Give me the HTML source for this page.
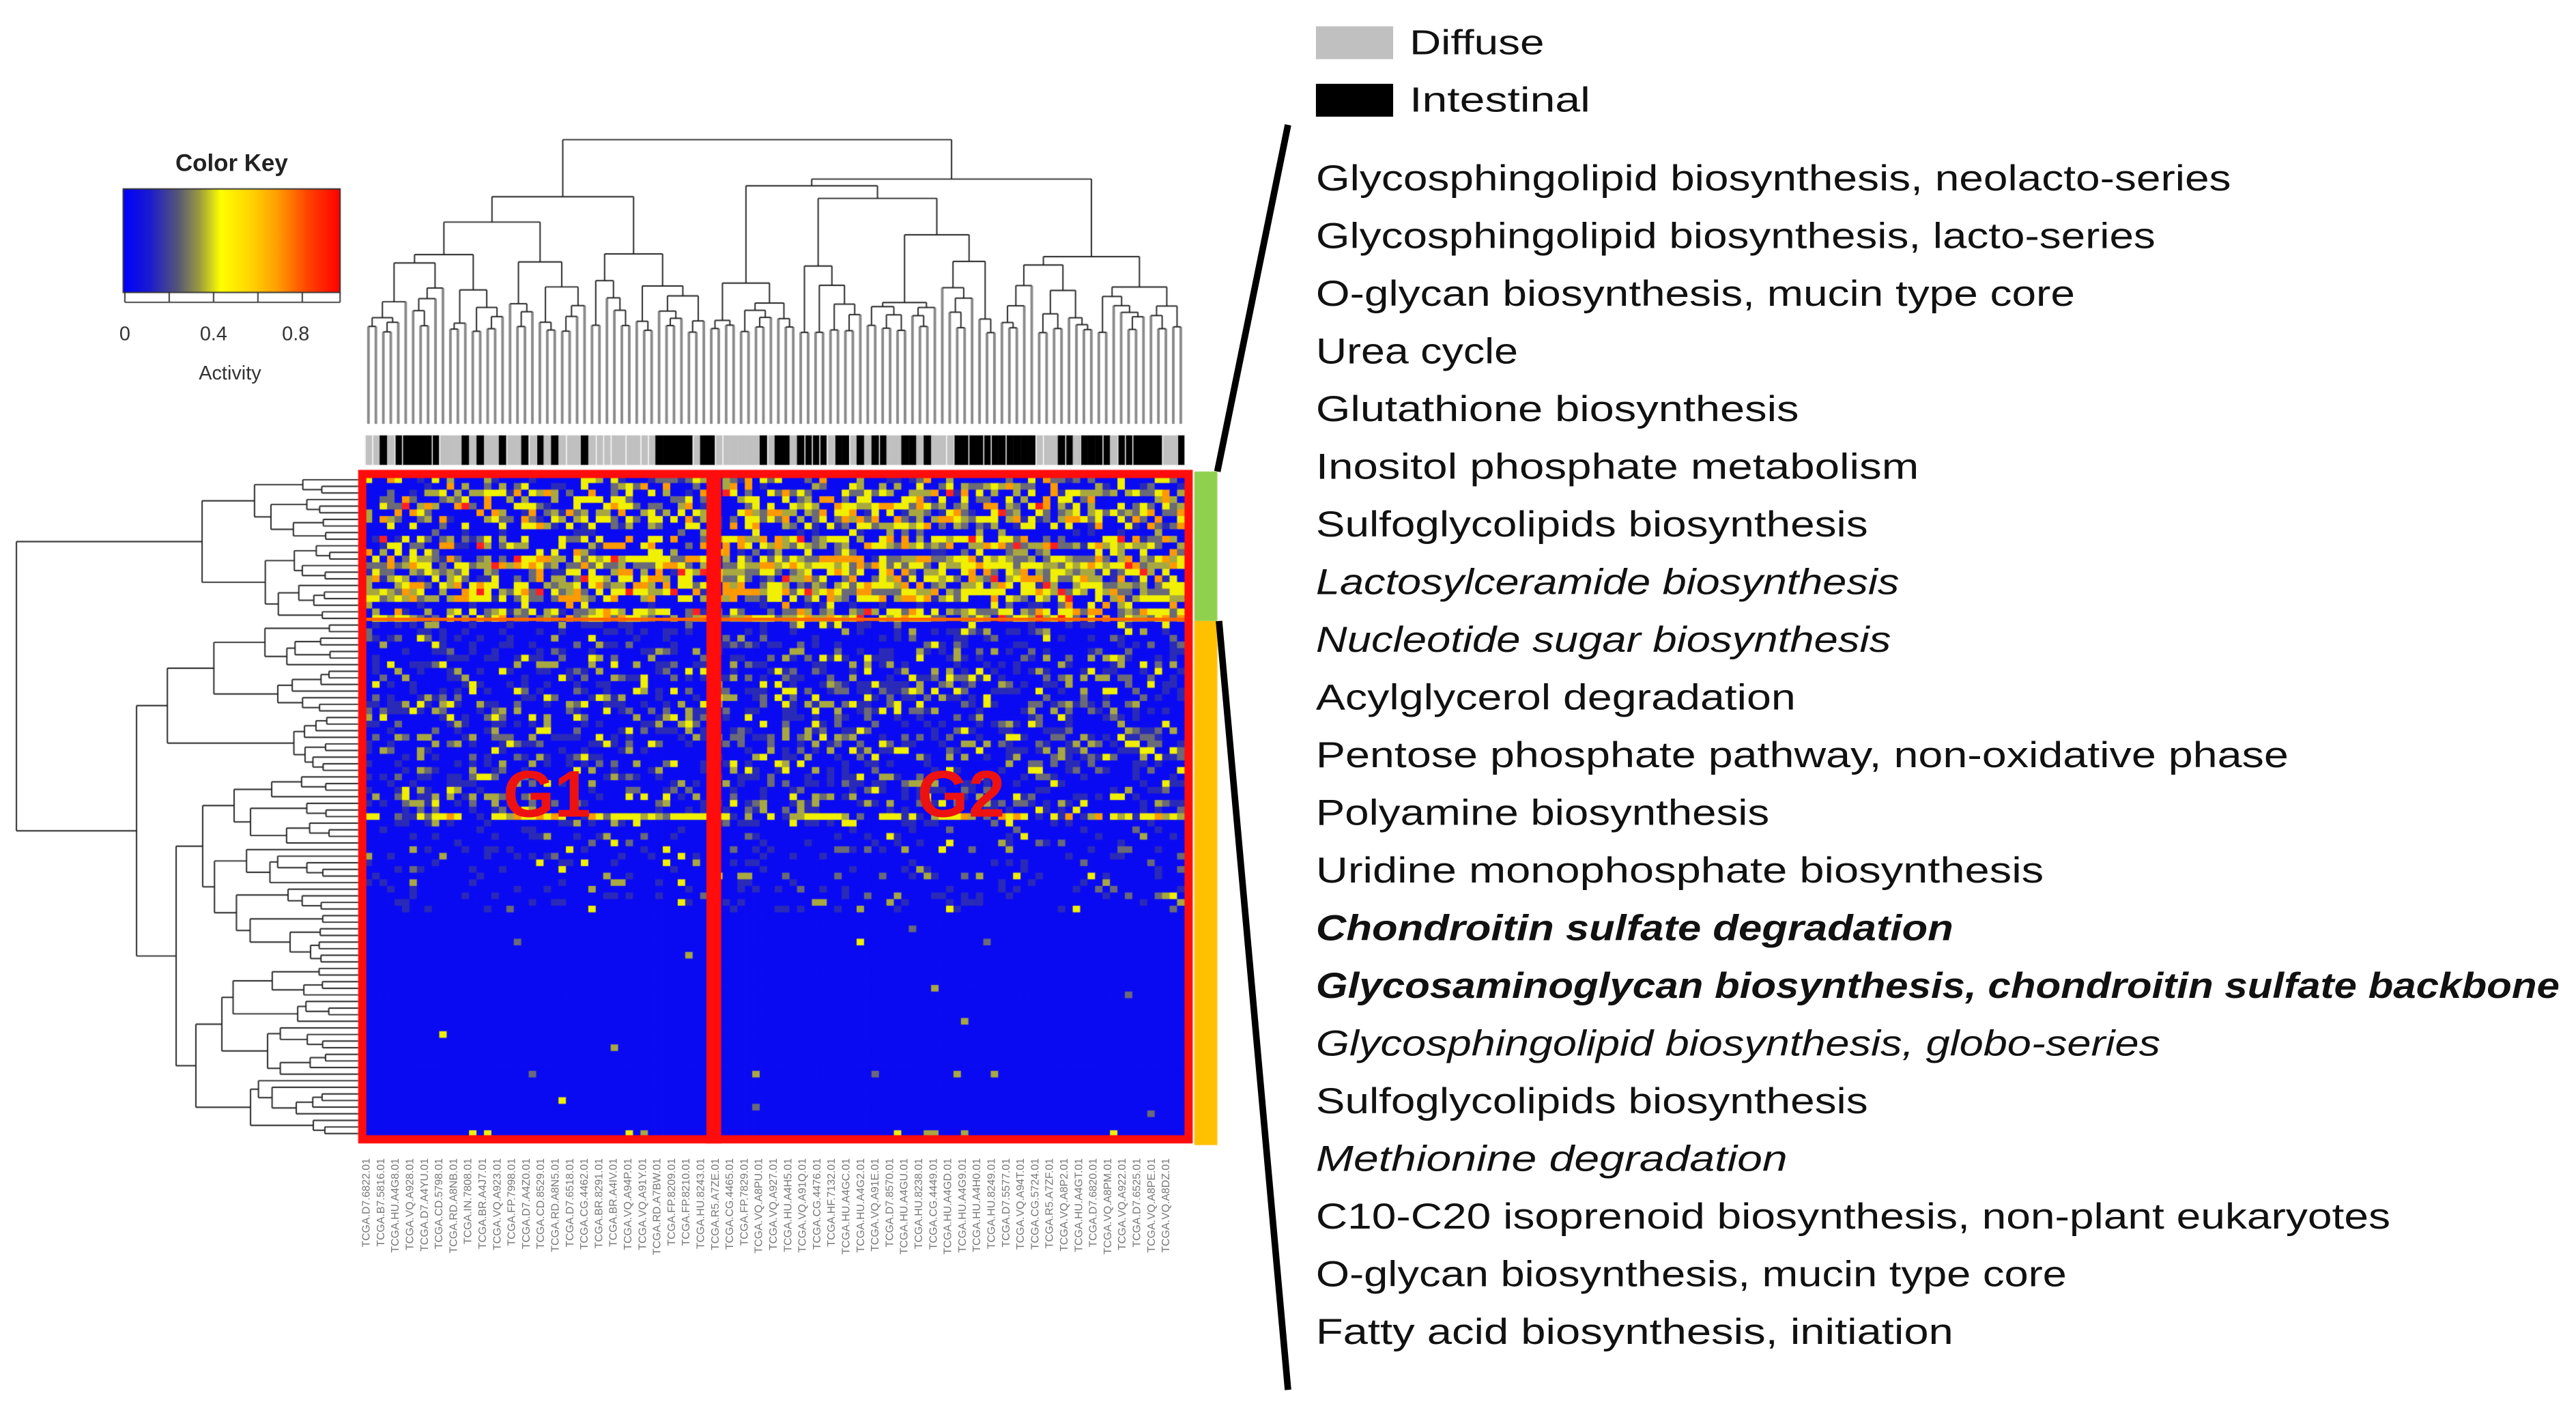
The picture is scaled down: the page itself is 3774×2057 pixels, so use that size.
<!DOCTYPE html>
<html><head><meta charset="utf-8"><style>
html,body{margin:0;padding:0;background:#fff;width:3774px;height:2057px;overflow:hidden}
canvas,svg{position:absolute;left:0;top:0}
</style></head><body>
<canvas id="c" width="3774" height="2057"></canvas>
<svg id="s" width="3774" height="2057" viewBox="0 0 1568 854.6" xmlns="http://www.w3.org/2000/svg">
<g font-family="Liberation Sans, sans-serif" fill="#222">
<text x="141" y="104" font-size="14.5" font-weight="bold" text-anchor="middle">Color Key</text>
<text x="76" y="207" font-size="12" text-anchor="middle" fill="#333">0</text>
<text x="130" y="207" font-size="12" text-anchor="middle" fill="#333">0.4</text>
<text x="180" y="207" font-size="12" text-anchor="middle" fill="#333">0.8</text>
<text x="140" y="231" font-size="12" text-anchor="middle" fill="#333">Activity</text>
</g>
<g font-family="Liberation Sans, sans-serif" font-weight="bold" font-size="40" fill="#ee1111" text-anchor="middle">
<text x="333" y="497">G1</text><text x="585" y="497">G2</text>
</g>
<rect x="801" y="16" width="47" height="20" fill="#c0c0c0"/>
<rect x="801" y="51" width="47" height="20" fill="#000"/>
<g font-family="Liberation Sans, sans-serif" font-size="21" fill="#111">
<text x="858" y="33" textLength="82" lengthAdjust="spacingAndGlyphs">Diffuse</text>
<text x="858" y="68" textLength="110" lengthAdjust="spacingAndGlyphs">Intestinal</text>
</g>
<path d="M784,76 L741,287" stroke="#000" stroke-width="4" fill="none"/>
<path d="M742,378 L784,846" stroke="#000" stroke-width="4" fill="none"/>
<g id="labels" font-family="Liberation Sans, sans-serif" font-size="22" fill="#111"></g>
<g id="cols" font-family="Liberation Sans, sans-serif" font-size="6.6" fill="#777"></g>
</svg>
<script>
var L=[["Glycosphingolipid biosynthesis, neolacto-series",1358,""],["Glycosphingolipid biosynthesis, lacto-series",1312,""],["O-glycan biosynthesis, mucin type core",1263,""],["Urea cycle",924,""],["Glutathione biosynthesis",1095,""],["Inositol phosphate metabolism",1168,""],["Sulfoglycolipids biosynthesis",1137,""],["Lactosylceramide biosynthesis",1156,"i"],["Nucleotide sugar biosynthesis",1151,"i"],["Acylglycerol degradation",1093,""],["Pentose phosphate pathway, non-oxidative phase",1393,""],["Polyamine biosynthesis",1077,""],["Uridine monophosphate biosynthesis",1244,""],["Chondroitin sulfate degradation",1189,"bi"],["Glycosaminoglycan biosynthesis, chondroitin sulfate backbone",1558,"bi"],["Glycosphingolipid biosynthesis, globo-series",1315,"i"],["Sulfoglycolipids biosynthesis",1137,""],["Methionine degradation",1088,"i"],["C10-C20 isoprenoid biosynthesis, non-plant eukaryotes",1455,""],["O-glycan biosynthesis, mucin type core",1258,""],["Fatty acid biosynthesis, initiation",1189,""]];
var NS="http://www.w3.org/2000/svg",lg=document.getElementById("labels");
L.forEach(function(l,i){var t=document.createElementNS(NS,"text");t.setAttribute("x",801);t.setAttribute("y",116+i*35.1);
t.setAttribute("textLength",l[1]-801);t.setAttribute("lengthAdjust","spacingAndGlyphs");
if(l[2].indexOf("i")>=0)t.setAttribute("font-style","italic");if(l[2].indexOf("b")>=0)t.setAttribute("font-weight","bold");
t.textContent=l[0];lg.appendChild(t);});
var seed=7;function R(){seed=(seed*16807)%2147483647;return seed/2147483647;}
var cg=document.getElementById("cols"),ids=["D7.6822","B7.5816","HU.A4G8","VQ.A928","D7.A4YU","CD.5798","RD.A8NB","IN.7808","BR.A4J7","VQ.A923","FP.7998","D7.A4Z0","CD.8529","RD.A8N5","D7.6518","CG.4462","BR.8291","BR.A4IV","VQ.A94P","VQ.A91Y","RD.A7BW","FP.8209","FP.8210","HU.8243","R5.A7ZE","CG.4465","FP.7829","VQ.A8PU","VQ.A927","HU.A4H5","VQ.A91Q","CG.4476","HF.7132","HU.A4GC","HU.A4G2","VQ.A91E","D7.8570","HU.A4GU","HU.8238","CG.4449","HU.A4GD","HU.A4G9","HU.A4H0","HU.8249","D7.5577","VQ.A94T","CG.5724","R5.A7ZF","VQ.A8P2","HU.A4GT","D7.6820","VQ.A8PM","VQ.A922","D7.6525","VQ.A8PE","VQ.A8DZ"];
ids.forEach(function(d,i){var x=222+i*8.85+3;var t=document.createElementNS(NS,"text");t.setAttribute("transform","translate("+x+",705) rotate(-90)");t.setAttribute("text-anchor","end");t.textContent="TCGA."+d+".01";cg.appendChild(t);});
var c=document.getElementById("c").getContext("2d");c.scale(3774/1568,2057/854.6);
var gr=c.createLinearGradient(75,0,207,0);
[[0,"#0000ff"],[0.12,"#1a1ad0"],[0.25,"#55557a"],[0.35,"#9a9a40"],[0.45,"#ffff00"],[0.6,"#ffd000"],[0.72,"#ff9900"],[0.85,"#ff4400"],[1,"#ff0000"]].forEach(function(s){gr.addColorStop(s[0],s[1]);});
c.fillStyle=gr;c.fillRect(75,115,132,63);c.strokeStyle="#333";c.lineWidth=0.8;c.strokeRect(75,115,132,63);
c.beginPath();[76,103,130,157,184,207].forEach(function(x){c.moveTo(x,178);c.lineTo(x,184);});c.moveTo(76,184);c.lineTo(207,184);c.stroke();
var NC=110,NR=100,x0=222,x1=721,y0=290,y1=692,cw=(x1-x0)/NC,rh=(y1-y0)/NR;
function col(v){if(v<0.15)return "#0a0af2";if(v<0.3)return "#2a2ab8";if(v<0.45)return "#6a6a78";if(v<0.6)return "#a8a840";if(v<0.82)return "#f0f000";if(v<0.93)return "#ff9900";return "#ff2020";}
var rowP=[];for(var r=0;r<NR;r++){var y=y0+r*rh,p;
 if(y<378){p=0.35+R()*0.3;if(y>338)p=0.6+R()*0.25;if(R()<0.2)p=0.12;}
 else if(y<500){p=0.1+R()*0.22;}
 else if(y<555){p=0.03+R()*0.06;}
 else p=R()<0.1?0.025:0.002;
 rowP.push(p);}
for(var r=0;r<NR;r++){var y=y0+r*rh;for(var k=0;k<NC;k++){var x=x0+k*cw,g2=x>436,p=rowP[r]*(g2?1.15:0.95);
 var v;
 if(R()<p){v=(y<378)?0.3+R()*0.65:0.28+R()*0.42;}else v=(y>555)?R()*0.12:R()*0.17;
 if(y>=378&&y<500&&R()<0.12)v=0.16+R()*0.12;
 if(Math.abs(y-495)<2.5&&R()<0.6)v=0.55+R()*0.3;
 if(y>686&&R()<0.15)v=0.5+R()*0.3;
 c.fillStyle=col(v);c.fillRect(x,y,cw+0.3,rh+0.3);}}
c.fillStyle="#ff6600";c.fillRect(222,376,500,2);
c.strokeStyle="#ff0c0c";c.lineWidth=5;c.strokeRect(220.5,288.5,503,405);
c.fillStyle="#ff0c0c";c.fillRect(430,287,9,409);
c.fillStyle="#8fd14f";c.fillRect(727,287,14,91);c.fillStyle="#ffc000";c.fillRect(727,378,14,319);
for(var k=0;k<NC;k++){var x=x0+k*cw;var gray=R()<0.35;if(x>336&&x<395)gray=R()<0.85;c.fillStyle=gray?"#c0c0c0":"#000";c.fillRect(x,265,cw+0.2,18);}
c.fillStyle="#fff";for(var k=0;k<=NC;k++){if(R()<0.4)c.fillRect(x0+k*cw,265,0.6,18);}
c.lineWidth=0.7;c.strokeStyle="#222";
function tree(lo,hi){
 if(hi-lo<=1)return {pos:lo,h:0,leaf:true};
 var m=lo+1+Math.floor(R()*(hi-lo-1));if(hi-lo>6)m=Math.floor((lo+hi)/2+(R()-0.5)*(hi-lo)*0.4);
 var a=tree(lo,m),b=tree(m,hi);var h=Math.max(a.h,b.h)+0.3+R()*(Math.log(hi-lo)*0.8);
 return {pos:(a.pos+b.pos)/2,h:h,a:a,b:b};}
function drawTop(n,sc,yb){var y=yb-n.h*sc;[n.a,n.b].forEach(function(ch){var yc=ch.leaf?258:yb-ch.h*sc;var x=x0+(ch.pos+0.5)*cw;
 c.strokeStyle=ch.leaf?"#8a8a8a":"#222";c.lineWidth=ch.leaf?1.6:0.8;c.beginPath();c.moveTo(x,y);c.lineTo(x,yc);c.stroke();if(!ch.leaf)drawTop(ch,sc,yb);});
 c.strokeStyle="#222";c.lineWidth=0.8;c.beginPath();c.moveTo(x0+(n.a.pos+0.5)*cw,y);c.lineTo(x0+(n.b.pos+0.5)*cw,y);c.stroke();}
var tA=tree(0,46),tB=tree(46,NC);var H=Math.max(tA.h,tB.h)*1.25;var rootT={pos:(tA.pos+tB.pos)/2,h:H,a:tA,b:tB};
drawTop(rootT,(205-85)/H,205);
function drawLeft(n,sc,xb){var x=xb-n.h*sc;[n.a,n.b].forEach(function(ch){var xc=ch.leaf?218:xb-ch.h*sc;var y=y0+(ch.pos+0.5)*rh;
 c.beginPath();c.moveTo(x,y);c.lineTo(xc,y);c.stroke();if(!ch.leaf)drawLeft(ch,sc,xb);});
 c.beginPath();c.moveTo(x,y0+(n.a.pos+0.5)*rh);c.lineTo(x,y0+(n.b.pos+0.5)*rh);c.stroke();}
c.strokeStyle="#222";c.lineWidth=0.8;var lA=tree(0,22),lB=tree(22,NR);var H2=Math.max(lA.h,lB.h)*1.6;
drawLeft({pos:(lA.pos+lB.pos)/2,h:H2,a:lA,b:lB},(205-10)/H2,205);
</script>
</body></html>
